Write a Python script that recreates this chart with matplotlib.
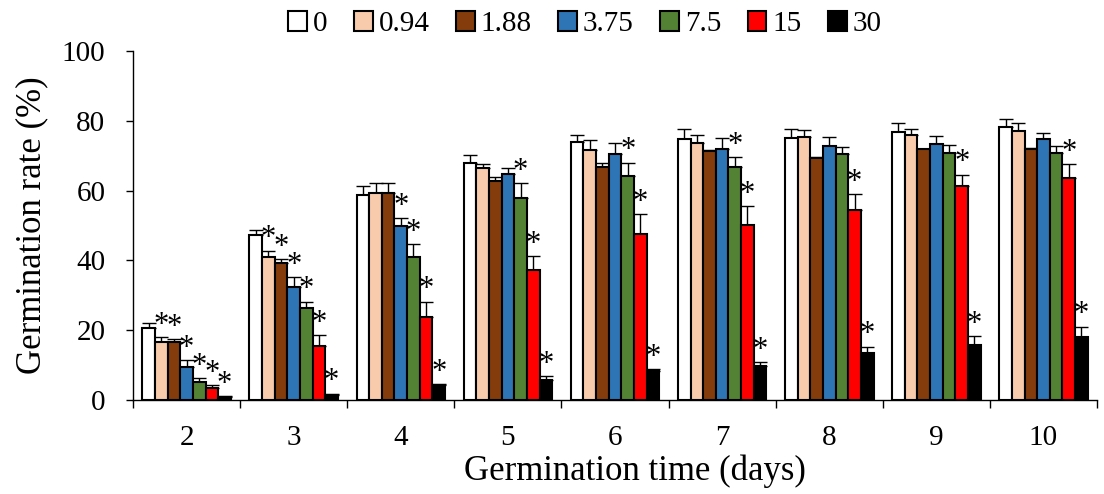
import numpy as np
import matplotlib.pyplot as plt

days = ['2', '3', '4', '5', '6', '7', '8', '9', '10']
concs = ['0', '0.94', '1.88', '3.75', '7.5', '15', '30']
colors = ['#FFFFFF', '#F8CBAD', '#843C0C', '#2E75B6', '#548235', '#FF0000', '#000000']

rate_0 = [20.5, 47.3, 58.6, 68.0, 73.8, 74.8, 75.0, 76.9, 78.3]
rate_094 = [16.7, 40.9, 59.4, 66.6, 71.6, 73.5, 75.4, 75.9, 77.1]
rate_188 = [16.5, 39.2, 59.4, 62.8, 66.9, 71.2, 69.2, 71.8, 71.8]
rate_375 = [9.5, 32.3, 49.9, 64.7, 70.4, 71.8, 72.9, 73.4, 74.9]
rate_75 = [5.2, 26.3, 40.9, 58.0, 64.2, 66.7, 70.4, 70.7, 70.7]
rate_15 = [3.5, 15.6, 23.9, 37.2, 47.5, 50.2, 54.4, 61.4, 63.7]
rate_30 = [0.9, 1.3, 4.2, 5.7, 8.3, 9.7, 13.4, 15.8, 18.1]

sd_0 = [1.5, 1.4, 2.6, 2.1, 2.0, 2.9, 2.6, 2.4, 2.1]
sd_094 = [1.4, 1.9, 2.7, 1.0, 2.9, 2.4, 2.0, 1.7, 2.2]
sd_188 = [0.9, 1.1, 2.7, 1.1, 1.0, 0.3, 0.3, 0.2, 0.3]
sd_375 = [1.9, 2.8, 2.2, 1.9, 3.3, 3.4, 2.5, 2.3, 1.5]
sd_75 = [1.0, 1.9, 3.8, 4.1, 3.8, 3.0, 2.2, 2.4, 2.2]
sd_15 = [0.8, 3.1, 4.3, 4.0, 5.7, 5.4, 4.5, 3.2, 3.9]
sd_30 = [0.3, 0.5, 0.3, 1.1, 0.6, 1.2, 1.9, 2.6, 2.9]

# which concentrations get a * on each day (index into concs)
stars = [[1, 2, 3, 4, 5, 6], [1, 2, 3, 4, 5, 6], [3, 4, 5, 6], [4, 5, 6],
         [4, 5, 6], [4, 5, 6], [5, 6], [5, 6], [5, 6]]

rates = [rate_0, rate_094, rate_188, rate_375, rate_75, rate_15, rate_30]
sds = [sd_0, sd_094, sd_188, sd_375, sd_75, sd_15, sd_30]

plt.rcParams['font.family'] = ['Liberation Serif', 'DejaVu Serif']

fig = plt.figure(figsize=(11.04, 4.94), dpi=100)
ax = fig.add_axes([0.1205, 0.1903, 0.8732, 0.7065])

x = np.arange(len(days))
w = 0.118
for i in range(len(concs)):
    pos = x + (i - 3) * w
    ax.bar(pos, rates[i], w, color=colors[i], edgecolor='black', linewidth=1.5,
           label=concs[i], zorder=2)
    ax.errorbar(pos, rates[i], yerr=[np.zeros(len(days)), sds[i]], fmt='none',
                ecolor='black', elinewidth=1, capsize=5, capthick=1, zorder=1)

for d in range(len(days)):
    for i in stars[d]:
        ax.annotate('*', (x[d] + (i - 3) * w, rates[i][d] + sds[i][d]),
                    xytext=(0, -2), textcoords='offset points',
                    ha='center', va='bottom', fontsize=22)

ax.set_xlim(-0.5, len(days) - 0.5)
ax.set_ylim(0, 100)
ax.set_yticks(range(0, 101, 20))
ax.set_xticks(x)
ax.set_xticklabels(days)
ax.set_xticks(np.arange(-0.5, len(days)), minor=True)
ax.tick_params(axis='x', which='major', length=0, labelsize=21, pad=18)
ax.tick_params(axis='x', which='minor', length=6, width=1)
ax.tick_params(axis='y', length=5, width=1, labelsize=21, pad=15)
for s in ['top', 'right']:
    ax.spines[s].set_visible(False)
ax.spines['left'].set_linewidth(1)
ax.spines['bottom'].set_linewidth(1)

ax.set_xlabel('Germination time (days)', fontsize=25)
ax.set_ylabel('Germination rate (%)', fontsize=25)
ax.xaxis.set_label_coords(0.521, -0.155)
ax.yaxis.set_label_coords(-0.088, 0.5)

fig.legend(loc='upper center', bbox_to_anchor=(585 / 1104, 1.03), ncol=7,
           frameon=False, fontsize=21, handlelength=0.65, handleheight=0.65,
           handletextpad=0.2, columnspacing=0.9)

fig.savefig('out.png', dpi=100)
